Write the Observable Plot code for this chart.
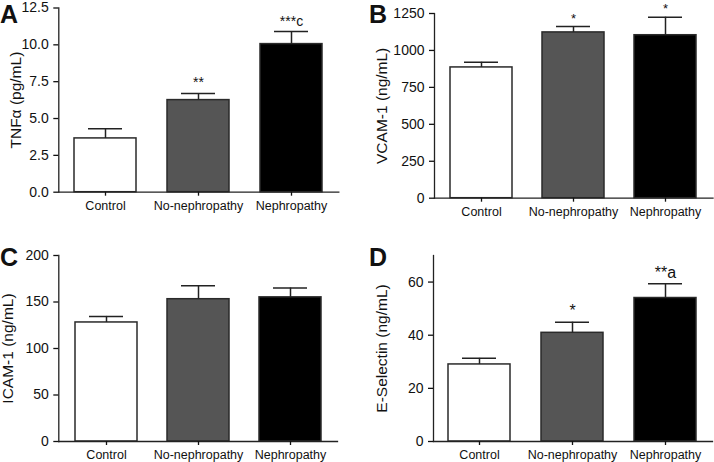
<!DOCTYPE html>
<html>
<head>
<meta charset="utf-8">
<script src="https://cdn.jsdelivr.net/npm/d3@7"></script>
<script src="https://cdn.jsdelivr.net/npm/@observablehq/plot@0.6"></script>
<style>
  html, body { margin: 0; padding: 0; background: #fff; }
  #wrap { position: relative; width: 714px; height: 462px; overflow: hidden; background: #fff; font-family: "Liberation Sans", Arial, sans-serif; }
  .panel { position: absolute; }
  .letter { position: absolute; font-weight: bold; font-size: 25px; line-height: 1; color: #111; font-family: "Liberation Sans", Arial, sans-serif; }
</style>
</head>
<body>
<div id="wrap"></div>
<script>
// ---- data ----
const categories = ["Control", "No-nephropathy", "Nephropathy"];

const tnfMean = [3.65, 6.25, 10.05];
const tnfSem  = [0.65, 0.45, 0.85];
const tnfSig  = ["", "**", "***c"];
const tnfTicks = [0, 2.5, 5, 7.5, 10, 12.5];

const vcamMean = [885, 1122, 1103];
const vcamSem  = [35, 40, 122];
const vcamSig  = ["", "*", "*"];
const vcamTicks = [0, 250, 500, 750, 1000, 1250];

const icamMean = [128, 153, 155];
const icamSem  = [6.5, 14.5, 10];
const icamSig  = ["", "", ""];
const icamTicks = [0, 50, 100, 150, 200];

const eselMean = [29.0, 40.9, 54.0];
const eselSem  = [2.3, 4.0, 5.4];
const eselSig  = ["", "*", "**a"];
const eselTicks = [0, 20, 40, 60];

// ---- layout / style ----
const fills = ["#ffffff", "#555555", "#000000"];
const ink = "#222";
const font = "'Liberation Sans', Arial, sans-serif";

const panels = [
  {letter: "A", mean: tnfMean, sem: tnfSem, sig: tnfSig, ticks: tnfTicks, domain: [0, 12.5], fmt: d3.format(".1f"),
   label: "TNFα (pg/mL)", left: 0, top: 0, mt: 7.5, mb: 39.3, ml: 58.3, mr: 18.7, labelDx: -43, sigSize: 14, sigDy: -6,
   letterPos: [0, 2]},
  {letter: "B", mean: vcamMean, sem: vcamSem, sig: vcamSig, ticks: vcamTicks, domain: [0, 1250], fmt: d3.format("d"),
   label: "VCAM-1 (ng/mL)", left: 357, top: 0, mt: 13, mb: 33.3, ml: 77, mr: 1.5, labelDx: -52, sigSize: 13, sigDy: -4,
   letterPos: [369, 2]},
  {letter: "C", mean: icamMean, sem: icamSem, sig: icamSig, ticks: icamTicks, domain: [0, 200], fmt: d3.format("d"),
   label: "ICAM-1 (ng/mL)", left: 0, top: 231, mt: 24, mb: 21, ml: 58.3, mr: 20, labelDx: -51, sigSize: 14, sigDy: -6,
   letterPos: [0, 245]},
  {letter: "D", mean: eselMean, sem: eselSem, sig: eselSig, ticks: eselTicks, domain: [0, 70], fmt: d3.format("d"),
   label: "E-Selectin (ng/mL)", left: 357, top: 231, mt: 24, mb: 21, ml: 76, mr: 2, labelDx: -51, sigSize: 16, sigDy: -6,
   letterPos: [369, 245]}
];

const wrap = document.getElementById("wrap");

for (const p of panels) {
  const rows = categories.map((c, i) => ({cat: c, mean: p.mean[i], upper: p.mean[i] + p.sem[i], sig: p.sig[i]}));
  const chart = Plot.plot({
    width: 357,
    height: 231,
    marginTop: p.mt,
    marginBottom: p.mb,
    marginLeft: p.ml,
    marginRight: p.mr,
    style: {fontFamily: font, fontSize: "12px", color: "#111", background: "transparent", overflow: "visible"},
    x: {domain: categories, paddingInner: 0.33, paddingOuter: 0.165, label: null},
    y: {domain: p.domain, label: null},
    color: {domain: categories, range: fills},
    marks: [
      Plot.barY(rows, {x: "cat", y: "mean", fill: "cat", stroke: "#2a2a2a", strokeWidth: 1.5}),
      Plot.ruleX(rows, {x: "cat", y1: "mean", y2: "upper", stroke: ink, strokeWidth: 1.5}),
      Plot.tickY(rows, {x: "cat", y: "upper", stroke: ink, strokeWidth: 1.5, insetLeft: 14, insetRight: 14}),
      Plot.text(rows, {x: "cat", y: "upper", text: "sig", lineAnchor: "bottom", dy: p.sigDy, fontSize: p.sigSize, fill: "#111"}),
      Plot.frame({anchor: "left", stroke: ink, strokeWidth: 1.3}),
      Plot.frame({anchor: "bottom", stroke: ink, strokeWidth: 1.3}),
      Plot.axisY({ticks: p.ticks, tickFormat: p.fmt, tickSize: 5, tickPadding: 5, fontSize: 14, label: null, strokeWidth: 1.3}),
      Plot.axisX({tickSize: 4, tickPadding: 5, fontSize: 12.5, label: null, strokeWidth: 1.3}),
      Plot.text([p.label], {frameAnchor: "left", rotate: -90, dx: p.labelDx, textAnchor: "middle", lineAnchor: "middle", fontSize: 15.5, fill: "#111"})
    ]
  });
  chart.classList.add("panel");
  chart.style.left = p.left + "px";
  chart.style.top = p.top + "px";
  wrap.appendChild(chart);

  const L = document.createElement("div");
  L.className = "letter";
  L.textContent = p.letter;
  L.style.left = p.letterPos[0] + "px";
  L.style.top = p.letterPos[1] + "px";
  wrap.appendChild(L);
}
</script>
</body>
</html>
